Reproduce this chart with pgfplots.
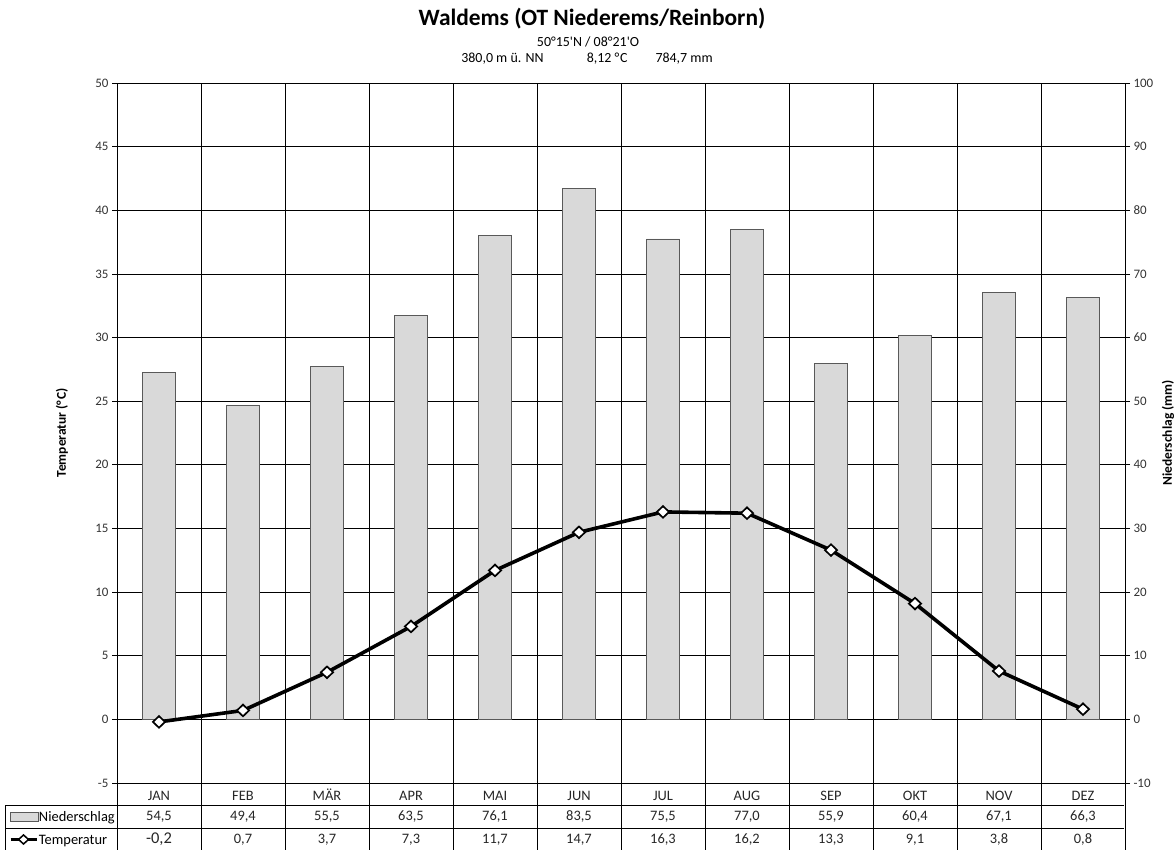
\documentclass[border=0pt]{standalone}
\usepackage{fontspec}
\setmainfont{Carlito}[Ligatures=TeXOff]
\usepackage{pgfplots}
\pgfplotsset{compat=1.18}
\usepackage{pgfplotstable}
\definecolor{barfill}{HTML}{D9D9D9}
\definecolor{bardraw}{HTML}{595959}
\definecolor{ticktext}{HTML}{333333}

\pgfplotstableread{
x    prec temp
0.5  54.5 -0.2
1.5  49.4 0.7
2.5  55.5 3.7
3.5  63.5 7.3
4.5  76.1 11.7
5.5  83.5 14.7
6.5  75.5 16.3
7.5  77.0 16.2
8.5  55.9 13.3
9.5  60.4 9.1
10.5 67.1 3.8
11.5 66.3 0.8
}\climate

\begin{document}
\begin{tikzpicture}
\useasboundingbox (0,0) rectangle (1176bp,-850bp);
\pgfplotsset{
  base/.style={
    at={(117bp,-83bp)}, anchor=north west,
    width=1008bp, height=700bp, scale only axis,
    xmin=0, xmax=12, clip=false,
    /pgf/number format/assume math mode=true,
    tick label style={font=\fontsize{13}{15}\selectfont, text=ticktext},
    axis line style={black, line width=0.8bp},
    tick align=outside, major tick length=5bp,
  }
}
% grid, left axis and month labels
\begin{axis}[base,
  ymin=-5, ymax=50, ytick={-5,0,...,50}, ytick pos=left,
  ytick style={black, line width=0.8bp},
  xtick={0.5,1.5,...,11.5},
  xticklabels={JAN,FEB,MÄR,APR,MAI,JUN,JUL,AUG,SEP,OKT,NOV,DEZ},
  xticklabel style={font=\fontsize{14.5}{16}\selectfont, text=black!85, anchor=base, yshift=-12.5bp, text height=10bp, text depth=0pt},
  xtick style={draw=none},
  minor xtick={0,1,...,12},
  ymajorgrids, xminorgrids,
  major grid style={black, line width=0.8bp},
  minor grid style={black, line width=0.8bp},
  ylabel={Temperatur (°\kern0.8pt C)},
  every axis y label/.style={at={(axis description cs:-0.0546,0.5)}, rotate=90, anchor=center, font=\bfseries\fontsize{13.5}{15}\selectfont},
]
\end{axis}
% bars, right axis
\begin{axis}[base,
  ymin=-10, ymax=100, ytick={-10,0,...,100}, ytick pos=right,
  ytick style={black, line width=0.8bp},
  xtick=\empty,
  ylabel={Niederschlag (mm)},
  every axis y label/.style={at={(axis description cs:1.0427,0.5)}, rotate=90, anchor=center, font=\bfseries\fontsize{13.5}{15}\selectfont},
]
\addplot[ybar, bar width=33bp, fill=barfill, draw=bardraw, line width=0.8bp]
  table[x=x, y=prec]{\climate};
\end{axis}
% temperature line
\begin{axis}[base,
  ymin=-5, ymax=50, hide axis,
  legend style={at={(axis description cs:-0.1071,-0.0314)}, anchor=north west,
    draw=none, fill=none, inner sep=0pt, outer sep=0pt, row sep=0pt,
    font=\fontsize{14.5}{16}\selectfont,
    nodes={inner sep=0pt, minimum height=23bp, text depth=0pt}},
  legend cell align=left,
]
\addlegendimage{legend image code/.code={\draw[fill=barfill, draw=bardraw, line width=0.8bp] (0bp,-4.5bp) rectangle (28bp,4.5bp);}}
\addlegendentry{Niederschlag}
\addplot[black, line width=3.6bp,
  mark=diamond*, mark size=5.8bp,
  mark options={xscale=1.4, fill=white, draw=black, line width=1.7bp, solid},
  legend image code/.code={
    \draw[black, line width=3bp] (0bp,0bp) -- (26bp,0bp);
    \draw[black, fill=white, line width=1.5bp] (13bp,4.5bp) -- (18bp,0bp) -- (13bp,-4.5bp) -- (8bp,0bp) -- cycle;}]
  table[x=x, y=temp]{\climate};
\addlegendentry{Temperatur}
\end{axis}
\begin{scope}[x=1bp, y=1bp]
% data table lines
\begin{scope}[line width=0.8bp, black]
\foreach \i in {0,...,12} {\draw ({117+84*\i},-783) -- ({117+84*\i},-850);}
\draw (5,-805) -- (5,-850);
\draw (5,-805) -- (1124,-805);
\draw (5,-828) -- (1124,-828);
\end{scope}
% data table values
\begin{scope}[font=\fontsize{14.5}{16}\selectfont, text=black!85]
\foreach \v/\i in {{54,5}/0,{49,4}/1,{55,5}/2,{63,5}/3,{76,1}/4,{83,5}/5,{75,5}/6,{77,0}/7,{55,9}/8,{60,4}/9,{67,1}/10,{66,3}/11}
  {\node at ({159+84*\i},-816.5) {\v};}
\foreach \v/\i in {{0,7}/1,{3,7}/2,{7,3}/3,{11,7}/4,{14,7}/5,{16,3}/6,{16,2}/7,{13,3}/8,{9,1}/9,{3,8}/10,{0,8}/11}
  {\node at ({159+84*\i},-839.5) {\v};}
\node[font=\fontsize{16.5}{18}\selectfont] at (159,-839.5) {-0,2};
\end{scope}
% titles
\node[font=\bfseries\fontsize{23.5}{26}\selectfont] at (592,-19) {Waldems (OT Niederems/Reinborn)};
\node[font=\fontsize{14}{16}\selectfont] at (588,-42) {50°15'N / 08°21'O};
\node[font=\fontsize{14}{16}\selectfont] at (587,-58.5) {380,0 m ü. NN\hspace{3.1em}8,12 °\kern0.8pt C\hspace{2em}784,7 mm};
\end{scope}
\end{tikzpicture}
\end{document}
